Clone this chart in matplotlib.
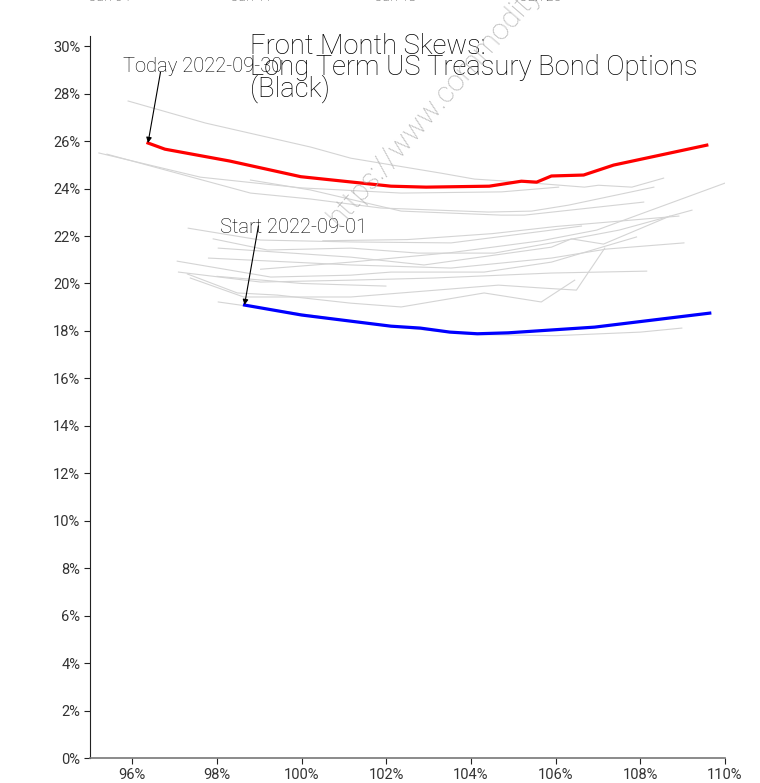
import matplotlib
matplotlib.use("Agg")
import matplotlib.pyplot as plt

plt.rcParams['font.family'] = ['Roboto', 'DejaVu Sans']
plt.rcParams['font.weight'] = 'light'

# today's skew (2022-09-30) and start skew (2022-09-01)
today_x = [96.37, 96.77, 98.3, 99.98, 102.11, 102.94, 104.43, 105.19, 105.55, 105.90, 106.66, 107.37, 109.57]
today_y = [25.92, 25.66, 25.16, 24.50, 24.10, 24.06, 24.10, 24.31, 24.27, 24.53, 24.57, 24.99, 25.83]

start_x = [98.65, 100.0, 102.11, 102.8, 103.5, 104.15, 104.88, 106.92, 109.64]
start_y = [19.09, 18.67, 18.20, 18.12, 17.95, 17.88, 17.92, 18.16, 18.75]

# intermediate days (grey)
days_x = [
    [95.90, 97.73, 100.21, 101.16, 103.29, 104.08, 105.19, 106.68, 107.01, 107.80, 108.55],
    [95.21, 97.61, 99.98, 102.35, 104.72, 106.07],
    [95.40, 98.79, 100.21, 101.87, 104.41, 105.43, 106.30, 108.32],
    [98.79, 100.21, 102.35, 104.72, 105.26, 108.08],
    [97.32, 99.03, 101.16, 103.53, 105.73, 106.61],
    [97.91, 99.19, 101.16, 102.75, 104.55, 105.90, 107.50, 109.22],
    [98.03, 101.16, 102.89, 105.90, 106.37, 107.13, 108.70],
    [97.80, 101.16, 103.53, 105.90, 107.20, 109.03],
    [97.06, 99.27, 101.16, 102.11, 104.31, 105.90, 107.91],
    [97.09, 99.03, 101.16, 103.13, 105.90, 108.15],
    [97.30, 98.48, 99.43, 101.16, 102.35, 104.31, 105.66, 106.45],
    [97.37, 98.63, 101.16, 104.65, 105.66, 106.49, 107.16],
    [98.00, 100.00, 101.99],
    [99.03, 101.16, 103.53, 105.66, 106.97, 110.00],
    [98.03, 99.50, 102.00, 104.00, 106.00, 108.00, 108.98],
    [100.5, 102.5, 104.5, 106.0, 108.91],
]
days_y = [
    [27.69, 26.76, 25.75, 25.28, 24.65, 24.40, 24.27, 24.06, 24.14, 24.06, 24.44],
    [25.50, 24.48, 24.03, 23.81, 23.86, 24.06],
    [25.45, 23.81, 23.56, 23.18, 23.01, 23.05, 23.30, 24.06],
    [24.36, 23.94, 23.05, 22.88, 22.88, 23.43],
    [22.33, 21.83, 21.75, 21.71, 22.21, 22.42],
    [21.88, 21.41, 21.49, 21.28, 21.28, 21.71, 22.25, 23.09],
    [21.49, 21.11, 20.78, 21.53, 21.88, 21.66, 22.84],
    [21.07, 20.78, 20.65, 21.07, 21.45, 21.71],
    [20.94, 20.27, 20.35, 20.48, 20.48, 20.90, 21.96],
    [20.48, 20.06, 20.14, 20.23, 20.44, 20.52],
    [20.40, 19.60, 19.51, 19.17, 19.01, 19.60, 19.22, 20.14],
    [20.23, 19.43, 19.43, 19.93, 19.81, 19.72, 21.49],
    [20.30, 20.00, 19.89],
    [20.60, 20.90, 21.30, 21.80, 22.25, 24.23],
    [19.22, 18.85, 18.20, 17.85, 17.80, 17.95, 18.12],
    [21.80, 21.85, 22.10, 22.40, 22.84],
]

x_ticks = [96, 98, 100, 102, 104, 106, 108, 110]
y_ticks = list(range(0, 31, 2))

fig = plt.figure(figsize=(7.6, 7.83), dpi=100)
ax = fig.add_axes([90 / 760, 1 - 758 / 783, 635 / 760, 722 / 783])

for xs, ys in zip(days_x, days_y):
    ax.plot(xs, ys, color='#d4d4d4', lw=0.8, zorder=1)
ax.plot(today_x, today_y, color='#ff0000', lw=2.3, zorder=3)
ax.plot(start_x, start_y, color='#0000ff', lw=2.3, zorder=3)

ax.set_xlim(95, 110)
ax.set_ylim(0, 30.43)
ax.set_xticks(x_ticks)
ax.set_xticklabels([f"{t}%" for t in x_ticks])
ax.set_yticks(y_ticks)
ax.set_yticklabels([f"{t}%" for t in y_ticks])
ax.tick_params(labelsize=10.5, colors='#222222', length=4, width=0.8, pad=3)
for lbl in ax.get_xticklabels() + ax.get_yticklabels():
    lbl.set_fontweight('normal')
    lbl.set_color('#333333')
for s in ['top', 'right']:
    ax.spines[s].set_visible(False)
ax.spines['left'].set_color('#222222')
ax.spines['bottom'].set_color('#777777')
ax.spines['bottom'].set_linewidth(1.2)

# annotations
ax.annotate('', xy=(today_x[0], today_y[0]), xytext=(9, 51), textcoords='offset points',
            arrowprops=dict(arrowstyle='-|>', color='black', lw=0.8, mutation_scale=8,
                            shrinkA=0, shrinkB=0))
ax.annotate('Today 2022-09-30', xy=(today_x[0], today_y[0]), xytext=(39, 55),
            textcoords='offset points', ha='center', va='center', fontsize=14.5,
            color='black')
ax.annotate('', xy=(start_x[0], start_y[0]), xytext=(10, 57), textcoords='offset points',
            arrowprops=dict(arrowstyle='-|>', color='black', lw=0.8, mutation_scale=8,
                            shrinkA=0, shrinkB=0))
ax.annotate('Start 2022-09-01', xy=(start_x[0], start_y[0]), xytext=(35, 56),
            textcoords='offset points', ha='center', va='center', fontsize=14.5,
            color='black')

fig.text(250 / 760, 1 - 33 / 783, "Front Month Skews:\nLong Term US Treasury Bond Options\n(Black)",
         ha='left', va='top', fontsize=19.7, color='black', linespacing=0.72)

# watermark
fig.text(339 / 760, 1 - 227 / 783, "https://www.commodity.com", rotation=49, rotation_mode='anchor',
         ha='left', va='baseline', fontsize=21, color='#b0b0b0', alpha=0.9)

# cut-off labels from the chart above
for lbl, px in zip(["Jan 04", "Jan 11", "Jan 18", "Jan 25"], [110, 252, 396, 540]):
    fig.text(px / 760, 1 - 4 / 783, lbl, ha='center', va='bottom', fontsize=10, color='#333333')

fig.savefig("out.png", dpi=100)
